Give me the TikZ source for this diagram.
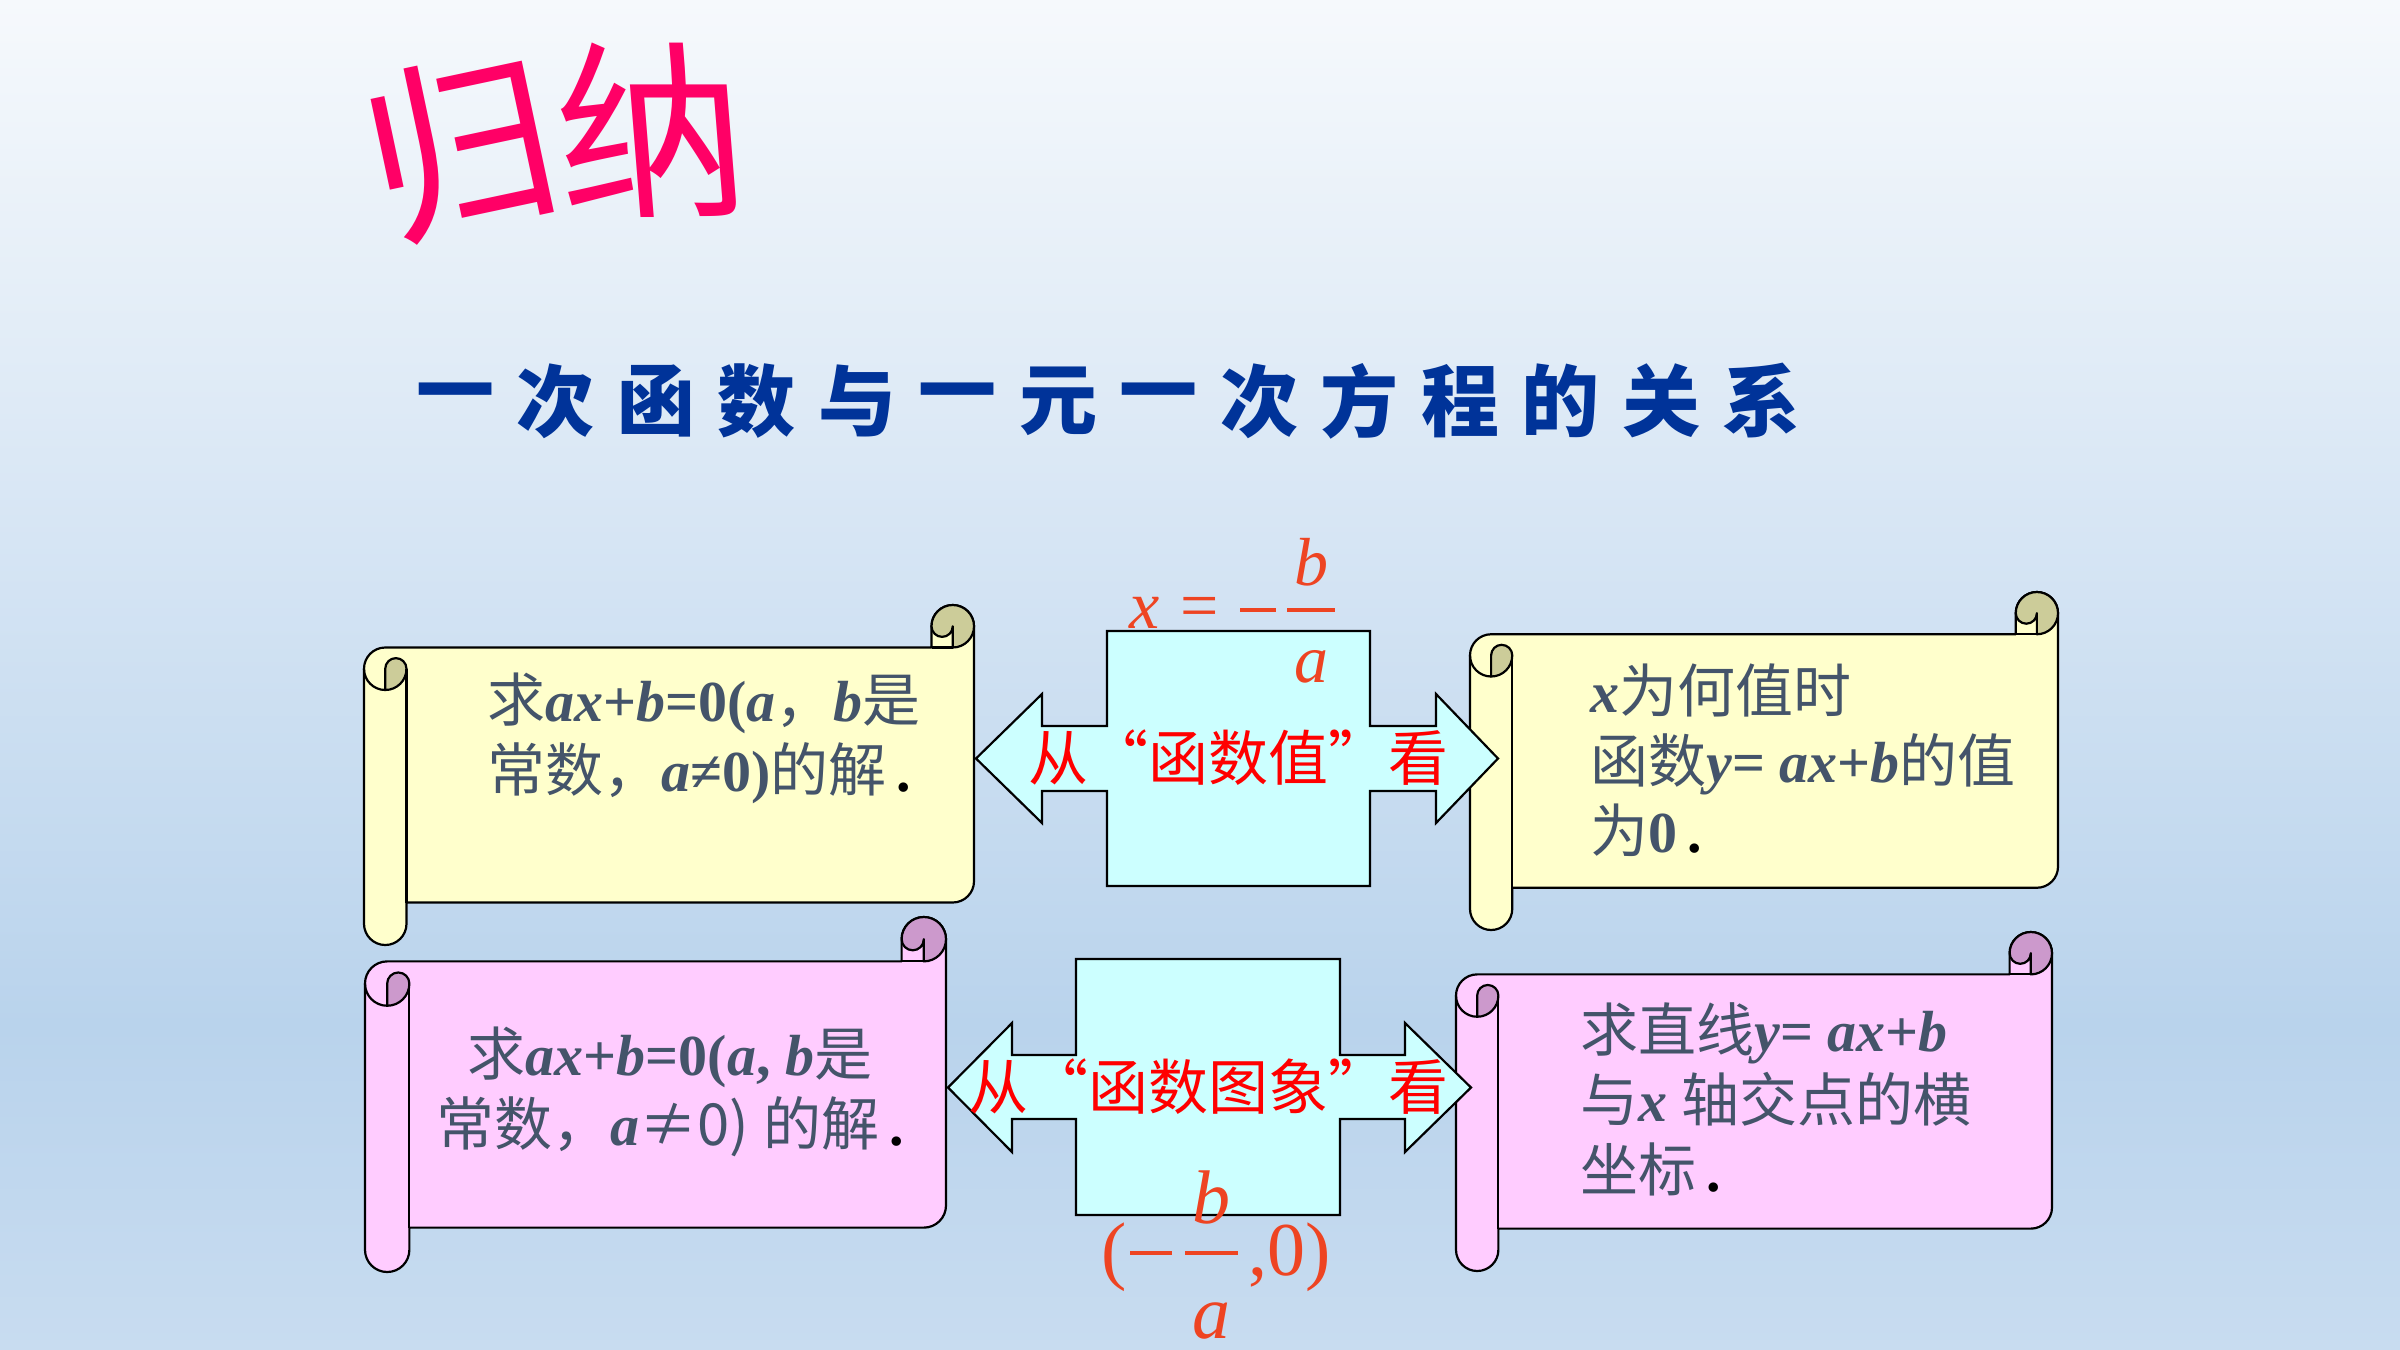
\documentclass[tikz,border=0pt]{standalone}
\usepackage{fontspec}
\setmainfont{Liberation Serif}
\newfontfamily\cjk{Noto Sans CJK SC}
\definecolor{scrolly}{HTML}{FFFFCC}
\definecolor{scrollyd}{HTML}{CCCC99}
\definecolor{scrollp}{HTML}{FFCCFF}
\definecolor{scrollpd}{HTML}{CC99CC}
\definecolor{crossc}{HTML}{CCFFFF}
\definecolor{bodytxt}{HTML}{44546A}
\definecolor{redtxt}{HTML}{FF0000}
\definecolor{mathred}{HTML}{EE4422}
\definecolor{titlepink}{HTML}{FF0066}
\definecolor{subblue}{HTML}{003399}
\definecolor{bgtop}{HTML}{F6F9FC}
\definecolor{bgup}{HTML}{D6E5F4}
\definecolor{bglow}{HTML}{B9D3EC}
\definecolor{bgbot}{HTML}{C8DCF0}
\pgfdeclareverticalshading{bgshade}{100bp}{color(0bp)=(bgbot); color(25bp)=(bgbot); color(37bp)=(bglow); color(55bp)=(bgup); color(75bp)=(bgtop); color(100bp)=(bgtop)}
\newcommand\mi[1]{{\bfseries\itshape #1}}
\newcommand\mb[1]{{\bfseries #1}}
\tikzset{
  scrollline/.style={draw=black, line width=1.1pt, line join=round},
  crossbox/.style={draw=black, fill=crossc, line width=1.1pt, line join=miter},
  bodytext/.style={text=bodytxt, font=\fontsize{29pt}{35pt}\selectfont, inner sep=0pt},
  arrowlabel/.style={text=redtxt, font=\cjk\fontsize{30pt}{36pt}\selectfont, inner sep=0pt},
  mathlab/.style={text=mathred, inner sep=0pt, anchor=base},
  mathbar/.style={draw=mathred, line width=1.8pt},
}
\newcommand\drawscroll[6]{%
  \pgfmathsetmacro\sL{#1}%
  \pgfmathsetmacro\sT{-(#2)}%
  \pgfmathsetmacro\sR{#3}%
  \pgfmathsetmacro\sB{-(#4)}%
  \pgfmathsetmacro\sc{((#4)-(#2))/8}%
  \pgfmathsetmacro\sh{\sc/2}%
  \pgfmathsetmacro\sq{\sc/4}%
  \filldraw[scrollline, fill=#5]
    ({\sL+\sh},{\sT-\sc}) -- ({\sR-\sc},{\sT-\sc}) -- ({\sR-\sc},{\sT-\sh})
    arc[start angle=180, end angle=0, radius=\sh]
    -- (\sR,{\sB+\sc+\sh}) arc[start angle=0, end angle=-90, radius=\sh]
    -- ({\sL+\sc},{\sB+\sc}) -- ({\sL+\sc},{\sB+\sh})
    arc[start angle=0, end angle=-180, radius=\sh]
    -- (\sL,{\sT-\sc-\sh}) arc[start angle=180, end angle=90, radius=\sh] -- cycle;
  \filldraw[scrollline, fill=#6]
    ({\sR-\sc},{\sT-\sh}) arc[start angle=180, end angle=-90, radius=\sh]
    -- ({\sR-\sh},{\sT-\sh}) arc[start angle=0, end angle=-180, radius=\sq] -- cycle;
  \draw[scrollline] ({\sR-\sc},{\sT-\sc}) -- ({\sR-\sh},{\sT-\sc});
  \filldraw[scrollline, fill=#6]
    ({\sL+\sh},{\sT-2*\sc}) -- ({\sL+\sh},{\sT-\sc-\sh})
    arc[start angle=180, end angle=0, radius=\sq]
    arc[start angle=0, end angle=-90, radius=\sh] -- cycle;
  \draw[scrollline] (\sL,{\sT-\sc-\sh}) arc[start angle=180, end angle=270, radius=\sh];
  \draw[scrollline] ({\sL+\sc},{\sT-\sc-\sh}) -- ({\sL+\sc},{\sB+\sc});
}
\begin{document}
\begin{tikzpicture}[x=0.5pt, y=0.5pt]
\useasboundingbox (0,0) rectangle (2400,-1350);
\shade[shading=bgshade] (0,0) rectangle (2400,-1350);

% title
\node[text=titlepink, font=\cjk\fontsize{95pt}{95pt}\selectfont, rotate=12, inner sep=0pt] (t1) at (461,-147) {归};
\node[text=titlepink, font=\cjk\fontsize{95pt}{95pt}\selectfont, inner sep=0pt, xslant=-0.08] (t2) at (651,-130) {纳};

% subtitle
\foreach \ch [count=\i from 0] in {一,次,函,数,与,一,元,一,次,方,程,的,关,系}
  \node[text=subblue, font=\cjk\bfseries\fontsize{39pt}{39pt}\selectfont, inner sep=0pt] (sub\i) at ({455+100.5*\i},-401) {\ch};

% scrolls
\drawscroll{364}{605}{974}{945}{scrolly}{scrollyd}
\drawscroll{1470}{592}{2058}{930}{scrolly}{scrollyd}
\drawscroll{365}{917}{946}{1272}{scrollp}{scrollpd}
\drawscroll{1456}{932}{2052}{1271}{scrollp}{scrollpd}

% cross arrows
\draw[crossbox] (1107,-631) -- (1370,-631) -- (1370,-726) -- (1436,-726) -- (1436,-694) -- (1498,-758.5)
  -- (1436,-823) -- (1436,-791) -- (1370,-791) -- (1370,-886) -- (1107,-886) -- (1107,-791)
  -- (1042,-791) -- (1042,-823) -- (976,-758.5) -- (1042,-694) -- (1042,-726) -- (1107,-726) -- cycle;
\draw[crossbox] (1076,-959) -- (1340,-959) -- (1340,-1055) -- (1405,-1055) -- (1405,-1023) -- (1471,-1087.5)
  -- (1405,-1152) -- (1405,-1119) -- (1340,-1119) -- (1340,-1215) -- (1076,-1215) -- (1076,-1119)
  -- (1012,-1119) -- (1012,-1152) -- (948,-1087.5) -- (1012,-1023) -- (1012,-1055) -- (1076,-1055) -- cycle;

\node[arrowlabel] (lab1) at (1238,-758) {从“函数值”看};
\node[arrowlabel] (lab2) at (1208,-1087) {从“函数图象”看};

% scroll texts
\node[bodytext, anchor=west, align=left] (s1) at (487,-738)
  {{\cjk 求}\mi{ax}\mb{+}\mi{b}\mb{=0(}\mi{a}{\cjk ，}\mi{b}{\cjk 是}\\
   {\cjk 常数，}\mi{a}\mb{≠0)}{\cjk 的解}{\color{black}\mb{\,.}}};
\node[bodytext, anchor=west, align=left] (s2) at (1590,-760)
  {\mi{x}{\cjk 为何值时}\\
   {\cjk 函数}\mi{y}\mb{=} \mi{ax}\mb{+}\mi{b}{\cjk 的值}\\
   {\cjk 为}\mb{0}{\color{black}\mb{\,.}}};
\node[bodytext, align=center] (s3) at (670,-1092)
  {{\cjk 求}\mi{ax}\mb{+}\mi{b}\mb{=0(}\mi{a}\mb{,} \mi{b}{\cjk 是}\\
   {\cjk 常数，}\mi{a}{\cjk ≠0)} {\cjk 的解}{\color{black}\mb{\,.}}};
\node[bodytext, anchor=west, align=left] (s4) at (1580,-1099)
  {{\cjk 求直线}\mi{y}\mb{=} \mi{ax}\mb{+}\mi{b}\\
   {\cjk 与}\mi{x} {\cjk 轴交点的横}\\
   {\cjk 坐标}{\color{black}\mb{\,.}}};

% math labels top
\begin{scope}[font=\fontsize{34pt}{40pt}\selectfont]
\node[mathlab] (mx) at (1145,-628) {\itshape x};
\node[mathlab] (meq) at (1200,-628) {=};
\node[mathlab] (mb) at (1311,-585) {\itshape b};
\node[mathlab] (ma) at (1311,-682) {\itshape a};
\end{scope}
\coordinate (min1l) at (1240,-610);
\coordinate (min1r) at (1276,-610);
\draw[mathbar] (min1l) -- (min1r);
\coordinate (bar1l) at (1287,-610);
\coordinate (bar1r) at (1335,-610);
\draw[mathbar] (bar1l) -- (bar1r);

% math labels bottom
\begin{scope}[font=\fontsize{38pt}{44pt}\selectfont]
\node[mathlab] (popen) at (1114,-1275) {(};
\node[mathlab] (pb) at (1211,-1223) {\itshape b};
\node[mathlab] (pa) at (1211,-1338) {\itshape a};
\node[mathlab, anchor=base west] (prest) at (1248,-1275) {,0)};
\end{scope}
\coordinate (min2l) at (1130,-1253);
\coordinate (min2r) at (1172,-1253);
\draw[mathbar] (min2l) -- (min2r);
\coordinate (bar2l) at (1185,-1253);
\coordinate (bar2r) at (1238,-1253);
\draw[mathbar] (bar2l) -- (bar2r);
\end{tikzpicture}
\end{document}
